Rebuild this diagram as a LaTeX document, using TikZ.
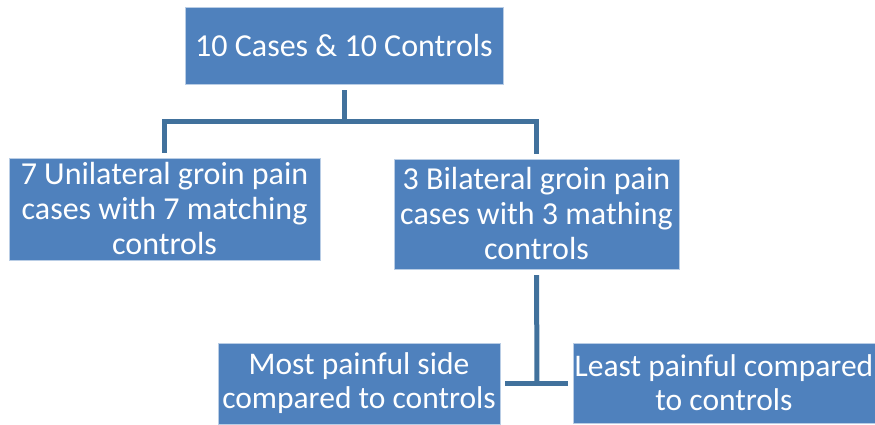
\documentclass[tikz,border=0pt]{standalone}
\usepackage{fontspec}
\setmainfont{Carlito}
\usetikzlibrary{positioning}
\definecolor{boxColor}{HTML}{4F81BD}
\definecolor{edgeColor}{HTML}{B9CDE5}
\definecolor{lineColor}{HTML}{41719C}
\tikzset{box/.style={fill=boxColor,draw=edgeColor,thin,text=white,align=center,
    inner sep=0pt,font=\fontsize{32}{35}\selectfont}}
\tikzset{link/.style={lineColor,line width=5pt}}

\begin{document}
\begin{tikzpicture}[x=1pt,y=-1pt]
\useasboundingbox (0,0) rectangle (875,425);
% boxes
\node[box,minimum width=318pt,minimum height=77pt] (all) at (344,45.5) {10 Cases \& 10 Controls};
\node[box,minimum width=311pt,minimum height=102pt] (uni) at (164.5,209) {7 Unilateral groin pain\\cases with 7 matching\\controls};
\node[box,minimum width=285pt,minimum height=110pt] (bi) at (536.5,214) {3 Bilateral groin pain\\cases with 3 mathing\\controls};
\node[box,minimum width=282pt,minimum height=81pt,font=\fontsize{31.5}{34}\selectfont] (most) at (359,383.5) {Most painful side\\compared to controls};
\node[box,minimum width=302pt,minimum height=80pt,font=\fontsize{31.5}{34}\selectfont] (least) at (724,383) {Least painful compared\\to controls};
% connectors
\coordinate (split) at (344,122);
\coordinate (fork) at (537,383.5);
\draw[link,shorten <=6pt] (all.south) -- (split);
\draw[link,shorten <=5pt,shorten >=5pt] (uni.north) |- (split) -| (bi.north);
\draw[link,shorten <=6pt] (bi.south) -- (fork);
\draw[link,shorten >=5pt] (fork) -- (most.east);
\draw[link,shorten >=5pt] (fork) -- (least.west |- fork);
\end{tikzpicture}
\end{document}
